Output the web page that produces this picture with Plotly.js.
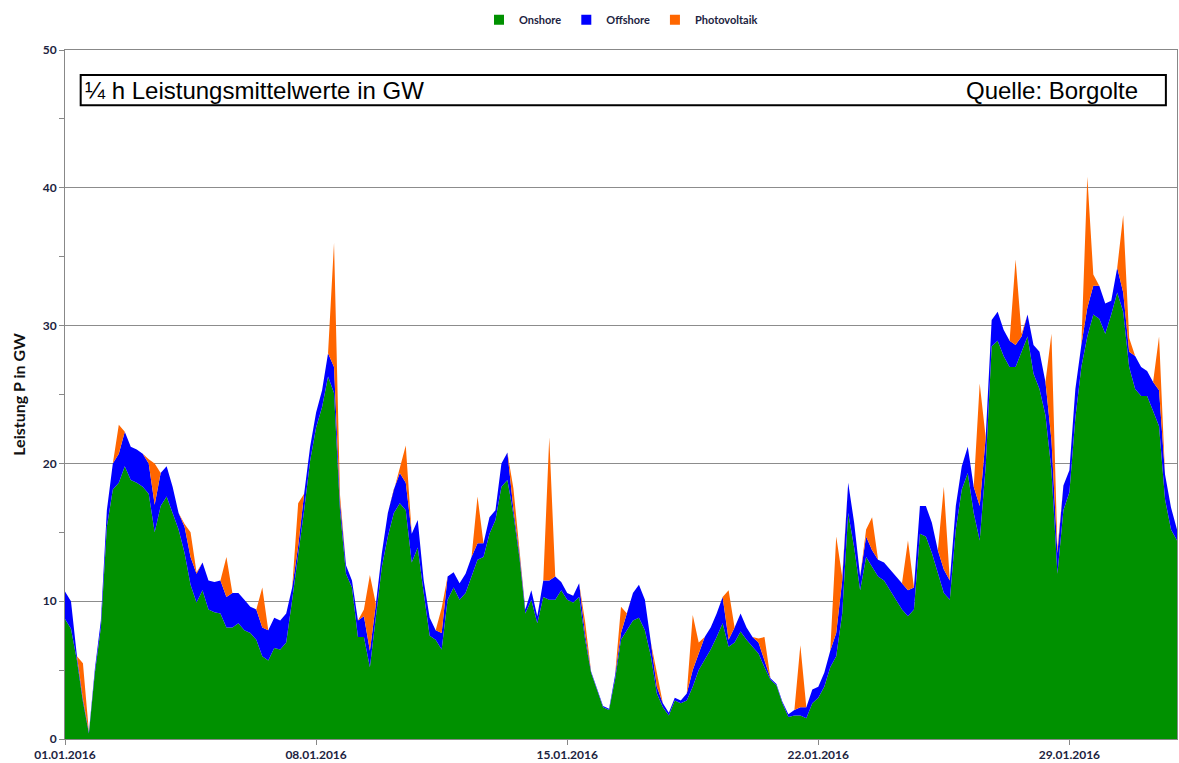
<!DOCTYPE html>
<html>
<head>
<meta charset="utf-8">
<script src="https://cdn.plot.ly/plotly-3.0.1.min.js"></script>
<style>html,body{margin:0;padding:0;background:#fff;}#chart{width:1179px;height:763px;}</style>
</head>
<body>
<div id="chart"></div>
<script>
// 4-hourly readings (00,04,08,12,16,20 h) from 01.01.2016 00:00 to 01.02.2016 00:00, GW
const startDate = '2016-01-01T00:00:00';
const stepHours = 4;
const seriesNames = ['Onshore', 'Offshore', 'Photovoltaik'];
const tickLabels = ['01.01.2016', '08.01.2016', '15.01.2016', '22.01.2016', '29.01.2016'];
const tickDates = ['2016-01-01', '2016-01-08', '2016-01-15', '2016-01-22', '2016-01-29'];

const onshore = [
  8.7, 8.0, 5.7, 2.7, 0.4, 4.8,
  8.1, 15.4, 18.1, 18.6, 19.8, 18.8,
  18.6, 18.3, 17.8, 15.0, 16.9, 17.6,
  16.4, 15.2, 13.5, 11.2, 9.9, 10.8,
  9.4, 9.2, 9.1, 8.1, 8.1, 8.4,
  7.9, 7.7, 7.2, 6.0, 5.7, 6.6,
  6.5, 7.0, 10.1, 13.2, 16.6, 20.2,
  22.6, 24.1, 26.3, 25.1, 16.6, 12.0,
  11.0, 7.4, 7.4, 5.2, 8.8, 12.5,
  14.7, 16.4, 17.1, 16.6, 12.8, 13.9,
  10.6, 7.5, 7.2, 6.5, 10.1, 11.0,
  10.1, 10.6, 11.8, 13.0, 13.2, 14.9,
  15.9, 18.3, 18.8, 16.3, 13.2, 9.1,
  10.1, 8.4, 10.3, 10.1, 10.1, 10.8,
  10.1, 9.9, 10.3, 7.2, 4.8, 3.6,
  2.3, 2.1, 4.3, 7.2, 7.9, 8.6,
  8.8, 7.9, 6.0, 3.3, 2.3, 1.7,
  2.8, 2.6, 2.8, 3.8, 5.0, 5.7,
  6.5, 7.4, 8.4, 6.7, 7.0, 7.8,
  7.2, 6.7, 6.2, 5.2, 4.3, 3.9,
  2.6, 1.6, 1.7, 1.7, 1.5, 2.6,
  3.0, 3.8, 5.2, 6.0, 9.1, 16.4,
  13.9, 10.8, 13.2, 12.5, 11.8, 11.5,
  10.8, 10.1, 9.4, 8.9, 9.4, 14.9,
  14.7, 13.5, 12.0, 10.6, 10.1, 15.2,
  18.1, 19.3, 16.4, 14.4, 19.8, 28.5,
  28.9, 27.8, 27.0, 27.0, 28.1, 29.2,
  26.5, 25.4, 23.5, 19.5, 12.0, 16.6,
  17.9, 23.3, 27.0, 29.2, 30.8, 30.5,
  29.4, 30.8, 32.4, 31.0, 27.0, 25.4,
  24.9, 24.9, 23.8, 22.7, 17.4, 15.2,
  14.4
];
const offshore = [
  2.0, 2.0, 0.3, 0.2, 0.1, 0.3,
  0.5, 1.2, 1.9, 2.1, 2.5, 2.4,
  2.4, 2.4, 2.2, 2.0, 2.4, 2.2,
  1.9, 1.2, 1.9, 2.0, 2.1, 2.0,
  2.1, 2.2, 2.4, 2.2, 2.5, 2.2,
  2.2, 1.9, 2.2, 2.1, 2.2, 2.2,
  2.1, 2.1, 0.9, 0.8, 1.2, 1.0,
  1.1, 1.2, 1.7, 1.9, 0.6, 0.6,
  0.5, 1.2, 1.5, 1.2, 1.0, 1.0,
  1.7, 1.7, 2.2, 2.0, 2.1, 2.0,
  0.9, 1.3, 0.7, 1.2, 1.7, 1.1,
  1.2, 1.4, 1.4, 1.2, 1.0, 1.2,
  0.7, 1.7, 2.0, 0.4, 0.3, 0.3,
  0.7, 0.5, 1.2, 1.4, 1.7, 0.6,
  0.5, 0.5, 1.0, 0.4, 0.1, 0.1,
  0.1, 0.1, 0.3, 0.5, 1.2, 2.0,
  2.4, 2.2, 1.0, 0.5, 0.3, 0.2,
  0.2, 0.2, 0.5, 1.2, 1.2, 1.7,
  1.6, 1.7, 1.9, 0.5, 1.1, 1.3,
  0.9, 0.7, 0.8, 0.5, 0.1, 0.1,
  0.1, 0.2, 0.4, 0.6, 0.8, 1.0,
  0.8, 1.0, 1.2, 1.7, 2.4, 2.2,
  1.8, 1.0, 1.5, 1.2, 1.2, 1.3,
  1.5, 1.7, 1.9, 1.9, 1.6, 2.0,
  2.2, 2.2, 1.7, 1.7, 1.4, 1.7,
  1.7, 1.9, 1.9, 2.5, 2.1, 1.9,
  2.1, 1.9, 1.9, 1.6, 1.1, 1.6,
  2.1, 2.7, 2.4, 2.2, 1.5, 1.8,
  1.6, 2.1, 1.6, 2.1, 2.1, 2.4,
  2.2, 1.0, 1.8, 1.4, 1.1, 2.4,
  2.1, 1.8, 2.1, 2.6, 1.8, 1.6,
  0.8
];
const photovoltaik = [
  0, 0, 0, 2.6, 0, 0,
  0, 0, 0, 2.1, 0, 0,
  0, 0, 0.3, 3.0, 0, 0,
  0, 0, 0.2, 1.8, 0.1, 0,
  0, 0, 0, 2.9, 0, 0,
  0, 0, 0, 2.9, 0, 0,
  0, 0, 0, 3.1, 0, 0,
  0, 0, 0, 9.0, 0.5, 0,
  0, 0, 0.5, 5.5, 0, 0,
  0, 0, 0.3, 2.7, 0, 0,
  0, 0, 0, 1.8, 0, 0,
  0, 0, 0, 3.4, 0, 0,
  0, 0, 0, 1.5, 0.3, 0,
  0, 0, 0, 10.4, 0, 0,
  0, 0, 0, 0.9, 0, 0,
  0, 0, 0, 1.9, 0, 0,
  0, 0, 0, 1.0, 0, 0,
  0, 0, 0, 4.0, 0.8, 0,
  0, 0, 0, 3.6, 0, 0,
  0, 0, 0.3, 1.7, 0, 0,
  0, 0, 0, 4.5, 0, 0,
  0, 0, 0, 7.0, 0.3, 0,
  0, 0, 0.5, 2.4, 0, 0,
  0, 0, 0, 3.6, 0, 0,
  0, 0, 0, 6.0, 0, 0,
  0, 0, 0, 8.9, 0, 0,
  0, 0, 0, 6.2, 0.2, 0,
  0, 0, 0, 7.7, 0.3, 0,
  0, 0, 0, 9.5, 0.8, 0,
  0, 0, 0, 5.6, 1.0, 0,
  0, 0, 0, 3.9, 0, 0,
  0
];

const colors = ['#009100', '#0000FF', '#FF6600'];
const values = [onshore, offshore, photovoltaik];

const t0 = new Date(startDate + 'Z').getTime();
const times = onshore.map((_, i) => new Date(t0 + i * stepHours * 3600000).toISOString().slice(0, 19).replace('T', ' '));

const traces = [];
values.forEach((v, k) => {
  traces.push({
    type: 'scatter', mode: 'lines', x: times, y: v,
    stackgroup: 'wind', line: {width: 0, color: colors[k]},
    fillcolor: colors[k], showlegend: false, hoverinfo: 'x+y', name: seriesNames[k]
  });
});
seriesNames.forEach((n, k) => {
  traces.push({
    type: 'scatter', mode: 'markers', x: [null], y: [null], name: n,
    marker: {symbol: 'square', size: 10, color: colors[k]}, showlegend: true
  });
});

const labelFont = {family: 'Lato, "Open Sans", sans-serif', size: 12, color: '#1c2340', weight: 'bold'};

const layout = {
  width: 1179, height: 763,
  margin: {l: 65, r: 2, t: 50, b: 24},
  paper_bgcolor: '#ffffff', plot_bgcolor: '#ffffff',
  showlegend: true,
  legend: {orientation: 'h', traceorder: 'normal', x: 0.5, xanchor: 'center', y: 1.044, yanchor: 'middle',
    font: {family: 'Lato, "Open Sans", sans-serif', size: 11, color: '#1c2340', weight: 'bold'},
    itemwidth: 30, tracegroupgap: 0},
  xaxis: {
    type: 'date', range: ['2016-01-01 00:00', '2016-02-01 00:00'],
    tickvals: tickDates, ticktext: tickLabels,
    ticks: 'outside', ticklen: 5, tickcolor: '#888', tickfont: labelFont,
    showgrid: false, zeroline: false,
    showline: true, linecolor: '#888', linewidth: 1, mirror: true
  },
  yaxis: {
    range: [0, 50], dtick: 10, tick0: 0,
    ticks: 'outside', ticklen: 5, tickcolor: '#888', tickfont: labelFont,
    minor: {dtick: 5, ticks: 'outside', ticklen: 5, tickcolor: '#888', showgrid: false},
    showgrid: true, gridcolor: '#8c8c8c', gridwidth: 1, zeroline: false,
    showline: true, linecolor: '#888', linewidth: 1, mirror: true
  },
  shapes: [{
    type: 'rect', xref: 'paper', yref: 'paper',
    x0: 0.0141, x1: 0.99, y0: 0.9198, y1: 0.9637,
    line: {color: '#000', width: 2}, fillcolor: '#ffffff', layer: 'above'
  }],
  annotations: [
    {xref: 'paper', yref: 'paper', x: 0.0165, y: 0.9418, xanchor: 'left', yanchor: 'middle',
     text: '¼ h Leistungsmittelwerte in GW', showarrow: false,
     font: {family: '"Liberation Sans", Arial, sans-serif', size: 24, color: '#000'}},
    {xref: 'paper', yref: 'paper', x: 0.9667, y: 0.9418, xanchor: 'right', yanchor: 'middle',
     text: 'Quelle: Borgolte', showarrow: false,
     font: {family: '"Liberation Sans", Arial, sans-serif', size: 24, color: '#000'}},
    {xref: 'paper', yref: 'paper', x: -0.042, y: 0.5, xanchor: 'center', yanchor: 'middle',
     text: 'Leistung P in GW', textangle: -90, showarrow: false,
     font: {family: 'Lato, "Open Sans", sans-serif', size: 16, color: '#111', weight: 'bold'}}
  ]
};

Plotly.newPlot('chart', traces, layout, {displayModeBar: false, staticPlot: true});
</script>
</body>
</html>
